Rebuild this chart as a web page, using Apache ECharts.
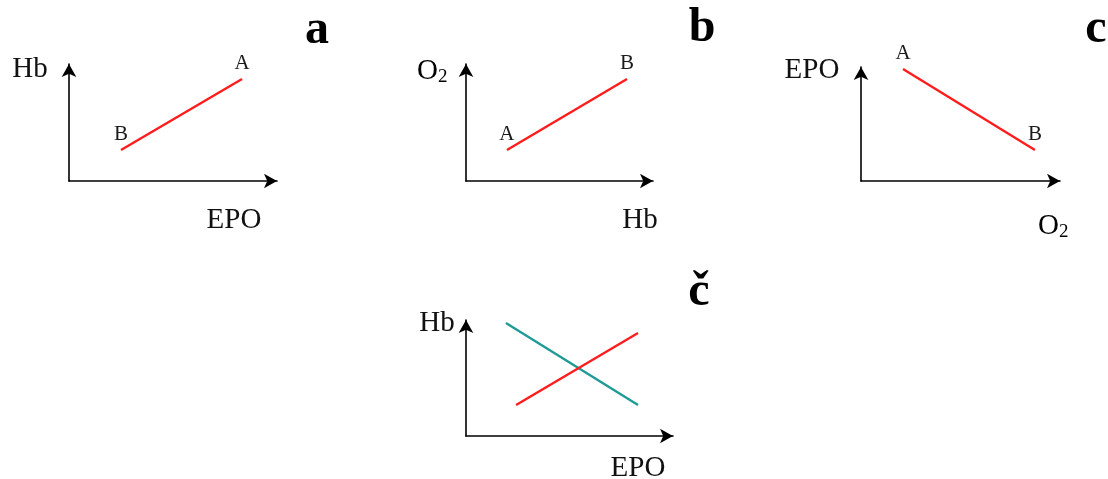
<!DOCTYPE html>
<html>
<head>
<meta charset="utf-8">
<title>EPO, Hb and O2 relationships</title>
<script src="https://cdn.jsdelivr.net/npm/echarts@6/dist/echarts.min.js"></script>
<style>
  html, body { margin: 0; padding: 0; background: #ffffff; }
  #chart { width: 1108px; height: 479px; }
</style>
</head>
<body>
<div id="chart"></div>
<script>
// Panel a: Hb rises with EPO (point B low, point A high)
const aX = [2.5, 8.32];
const aY = [2.65, 8.72];
const aTags = ['B', 'A'];

// Panel b: O2 rises with Hb
const bX = [2.19, 8.61];
const bY = [2.65, 8.72];
const bTags = ['A', 'B'];

// Panel c: EPO falls as O2 rises
const cX = [2.11, 8.74];
const cY = [9.82, 2.72];
const cTags = ['A', 'B'];

// Panel č: two opposing Hb responses to EPO
const dTealX = [1.93, 8.31];
const dTealY = [9.74, 2.67];
const dRedX = [2.42, 8.31];
const dRedY = [2.67, 8.88];

// Axis titles and panel letters
const axisTitles = {
  a: { x: 'EPO', y: 'Hb' },
  b: { x: 'Hb', y: 'O2' },
  c: { x: 'O2', y: 'EPO' },
  d: { x: 'EPO', y: 'Hb' }
};
const panelLetters = ['a', 'b', 'c', 'č'];

const RED = '#ff1c1c';
const TEAL = '#1f9a96';
const SERIF = '"Liberation Serif", "Times New Roman", serif';

const grids = [
  { left: 69, top: 64, width: 208, height: 117 },
  { left: 466, top: 64, width: 187, height: 117 },
  { left: 861, top: 67, width: 199, height: 114 },
  { left: 466, top: 320, width: 207, height: 116 }
];

function axis(gridIndex) {
  return {
    type: 'value', gridIndex: gridIndex, min: 0, max: 10,
    axisLine: {
      show: true, onZero: false,
      symbol: ['none', 'arrow'], symbolSize: [11, 13],
      lineStyle: { color: '#000', width: 1.6 }
    },
    axisTick: { show: false },
    axisLabel: { show: false },
    splitLine: { show: false }
  };
}

function pairs(xs, ys, tags) {
  return xs.map((x, i) => {
    const item = { value: [x, ys[i]] };
    if (tags) item.name = tags[i];
    return item;
  });
}

function lineSeries(idx, xs, ys, tags, color) {
  return {
    type: 'line', xAxisIndex: idx, yAxisIndex: idx,
    data: pairs(xs, ys, tags),
    symbol: 'circle', symbolSize: 0.1, showSymbol: true,
    lineStyle: { color: color, width: 2.4 },
    itemStyle: { color: color },
    silent: true, animation: false,
    label: {
      show: !!tags, position: 'top', distance: 5,
      formatter: p => p.name,
      fontFamily: SERIF, fontSize: 21, color: '#1a1a1a'
    }
  };
}

const titleStyle = { fontFamily: SERIF, fontSize: 29, fill: '#111' };
const subRich = {
  o: { fontFamily: SERIF, fontSize: 29, lineHeight: 30, verticalAlign: 'top', color: '#111' },
  s: { fontFamily: SERIF, fontSize: 19, lineHeight: 19, padding: [22, 0, 0, 0], verticalAlign: 'bottom', color: '#111' }
};

function axisText(txt, x, y, align) {
  if (txt === 'O2') {
    return {
      type: 'text', silent: true,
      style: { text: '{o|O}{s|2}', rich: subRich, x: x, y: y, textAlign: align || 'left', textVerticalAlign: 'middle' }
    };
  }
  return {
    type: 'text', silent: true,
    style: Object.assign({ text: txt, x: x, y: y, textAlign: align || 'center', textVerticalAlign: 'middle' }, titleStyle)
  };
}

function letter(txt, x, y) {
  return {
    type: 'text', silent: true,
    style: { text: txt, x: x, y: y, textAlign: 'center', textVerticalAlign: 'middle',
             fontFamily: SERIF, fontWeight: 'bold', fontSize: 48, fill: '#000' }
  };
}

const chart = echarts.init(document.getElementById('chart'), null, { renderer: 'canvas' });

chart.setOption({
  backgroundColor: '#ffffff',
  animation: false,
  grid: grids,
  xAxis: [axis(0), axis(1), axis(2), axis(3)],
  yAxis: [axis(0), axis(1), axis(2), axis(3)],
  series: [
    lineSeries(0, aX, aY, aTags, RED),
    lineSeries(1, bX, bY, bTags, RED),
    lineSeries(2, cX, cY, cTags, RED),
    lineSeries(3, dTealX, dTealY, null, TEAL),
    lineSeries(3, dRedX, dRedY, null, RED)
  ],
  graphic: [
    axisText(axisTitles.a.y, 30, 69),
    axisText(axisTitles.a.x, 234, 220),
    axisText(axisTitles.b.y, 417, 72, 'left'),
    axisText(axisTitles.b.x, 640, 220),
    axisText(axisTitles.c.y, 812, 70),
    axisText(axisTitles.c.x, 1038, 227, 'left'),
    axisText(axisTitles.d.y, 437, 323),
    axisText(axisTitles.d.x, 638, 468),
    letter(panelLetters[0], 317, 31),
    letter(panelLetters[1], 702, 29),
    letter(panelLetters[2], 1096, 30),
    letter(panelLetters[3], 699, 293)
  ]
});
</script>
</body>
</html>
